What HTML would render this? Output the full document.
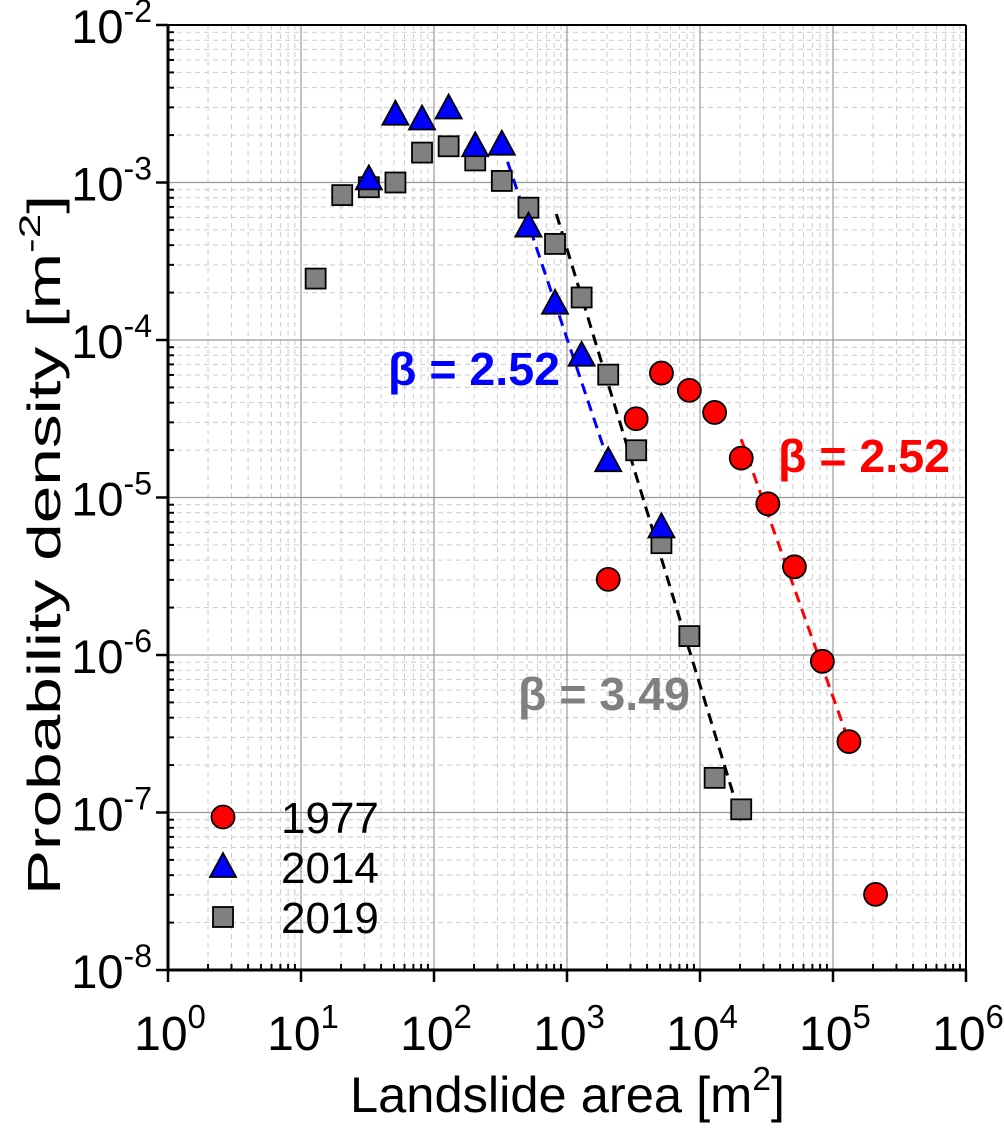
<!DOCTYPE html>
<html><head><meta charset="utf-8"><style>
body{margin:0;background:#fff;}
svg text{font-family:"Liberation Sans",Arial,sans-serif;}
</style></head><body>
<svg id="chart" width="1004" height="1132" xmlns="http://www.w3.org/2000/svg"></svg>
<script>
// data (log10 x, log10 y)
const xTickExps=[0,1,2,3,4,5,6];
const yTickExps=[-8,-7,-6,-5,-4,-3,-2];
const s1977X=[3.31,3.52,3.71,3.92,4.11,4.31,4.51,4.71,4.92,5.12,5.32];
const s1977Y=[-5.52,-4.50,-4.21,-4.32,-4.46,-4.75,-5.04,-5.44,-6.04,-6.55,-7.52];
const s2014X=[1.51,1.71,1.91,2.11,2.31,2.51,2.71,2.91,3.11,3.31,3.71];
const s2014Y=[-2.98,-2.57,-2.60,-2.53,-2.77,-2.76,-3.28,-3.77,-4.10,-4.77,-5.19];
const s2019X=[1.11,1.31,1.51,1.71,1.91,2.11,2.31,2.51,2.71,2.91,3.11,3.31,3.52,3.71,3.92,4.11,4.31];
const s2019Y=[-3.61,-3.08,-3.03,-3.00,-2.81,-2.77,-2.86,-2.99,-3.16,-3.39,-3.73,-4.22,-4.70,-5.29,-5.88,-6.78,-6.98];
const fitBlueX=[2.51,3.31], fitBlueY=[-2.76,-4.77];
const fitBlackX=[2.92,4.31], fitBlackY=[-3.20,-7.05];
const fitRedX=[4.31,5.12], fitRedY=[-4.63,-6.55];

const L=168,R=966,T=25,B=970;
const X=v=>L+(v-0)/6*(R-L);
const Y=v=>T+(-2-v)/6*(B-T);
const svg=document.getElementById('chart');
const NS='http://www.w3.org/2000/svg';
function mk(tag,attrs,parent){const e=document.createElementNS(NS,tag);for(const k in attrs)e.setAttribute(k,attrs[k]);(parent||svg).appendChild(e);return e;}

// grid
const grid=mk('g',{});


for(let d=0;d<6;d++)for(let m=2;m<=9;m++){const x=X(d+Math.log10(m));mk('line',{x1:x,x2:x,y1:T,y2:B,stroke:'#ccc','stroke-dasharray':'5,4','stroke-width':1},grid);}
for(let d=-8;d<-2;d++)for(let m=2;m<=9;m++){const y=Y(d+Math.log10(m));mk('line',{x1:L,x2:R,y1:y,y2:y,stroke:'#ccc','stroke-dasharray':'5,4','stroke-width':1},grid);}
xTickExps.forEach(e=>{mk('line',{x1:X(e),x2:X(e),y1:T,y2:B,stroke:'#999','stroke-width':1.2},grid);});
yTickExps.forEach(e=>{mk('line',{x1:L,x2:R,y1:Y(e),y2:Y(e),stroke:'#999','stroke-width':1.2},grid);});

// axes frame
const ax=mk('g',{});


mk('line',{x1:L,x2:L,y1:T,y2:B+1,stroke:'#000','stroke-width':3},ax);
mk('line',{x1:L-1,x2:R,y1:B,y2:B,stroke:'#000','stroke-width':3},ax);
mk('line',{x1:L,x2:R,y1:T,y2:T,stroke:'#000','stroke-width':2},ax);
mk('line',{x1:R,x2:R,y1:T,y2:B,stroke:'#000','stroke-width':2},ax);
xTickExps.forEach(e=>{mk('line',{x1:X(e),x2:X(e),y1:B,y2:B+12,stroke:'#000','stroke-width':2.5},ax);});
for(let d=0;d<6;d++)for(let m=2;m<=9;m++){const x=X(d+Math.log10(m));mk('line',{x1:x,x2:x,y1:B,y2:B-6,stroke:'#000','stroke-width':2},ax);}
yTickExps.forEach(e=>{mk('line',{x1:L-12,x2:L,y1:Y(e),y2:Y(e),stroke:'#000','stroke-width':2.5},ax);});
for(let d=-8;d<-2;d++)for(let m=2;m<=9;m++){const y=Y(d+Math.log10(m));mk('line',{x1:L,x2:L+6,y1:y,y2:y,stroke:'#000','stroke-width':2},ax);}

// tick labels
xTickExps.forEach(e=>{
  const t=mk('text',{x:X(e)+2,y:B+80,'text-anchor':'middle','font-size':48});
  
  
  t.innerHTML='10<tspan dy="-22" font-size="33">'+e+'</tspan>';
});
yTickExps.forEach(e=>{
  const t=mk('text',{x:152,y:Y(e)+18,'text-anchor':'end','font-size':47});
  
  
  t.innerHTML='10<tspan dy="-21" font-size="32">'+e+'</tspan>';
});

// axis titles
const xt=mk('text',{x:350,y:1112,'font-size':50,textLength:435,lengthAdjust:'spacingAndGlyphs'});


xt.innerHTML='Landslide area [m<tspan dy="-22" font-size="33">2</tspan><tspan dy="22">]</tspan>';
const yt=mk('text',{x:0,y:0,'font-size':46,transform:'translate(60,895) rotate(-90)',textLength:700,lengthAdjust:'spacingAndGlyphs'});


yt.innerHTML='Probability density [m<tspan dy="-20" font-size="30">-2</tspan><tspan dy="20">]</tspan>';

// fit lines
function fit(xs,ys,col,name){const l=mk('line',{x1:X(xs[0]),y1:Y(ys[0]),x2:X(xs[1]),y2:Y(ys[1]),stroke:col,'stroke-width':3,'stroke-dasharray':'11,7'});

}
fit(fitBlueX,fitBlueY,'#0000ff','fit-line-2014');
fit(fitBlackX,fitBlackY,'#000','fit-line-2019');
fit(fitRedX,fitRedY,'#ff0000','fit-line-1977');

// markers
function circ(cx,cy,g){return mk('circle',{cx:cx,cy:cy,r:11.5,fill:'#ff0000',stroke:'#000','stroke-width':1.8},g);}
function tri(cx,cy,g){return mk('polygon',{points:`${cx},${cy-14} ${cx+13},${cy+10} ${cx-13},${cy+10}`,fill:'#0000ff',stroke:'#000','stroke-width':1.8},g);}
function sq(cx,cy,g){return mk('rect',{x:cx-10,y:cy-10,width:20,height:20,fill:'#808080',stroke:'#000','stroke-width':1.8},g);}
const g19=mk('g',{});


s2019X.forEach((x,i)=>{const e=sq(X(x),Y(s2019Y[i]),g19);

});
const g14=mk('g',{});


s2014X.forEach((x,i)=>{const e=tri(X(x),Y(s2014Y[i]),g14);

});
const g77=mk('g',{});


s1977X.forEach((x,i)=>{const e=circ(X(x),Y(s1977Y[i]),g77);

});

// annotations
function ann(x,y,txt,col,name){const t=mk('text',{x:x,y:y,'font-size':46,'font-weight':'bold',fill:col,textLength:172,lengthAdjust:'spacingAndGlyphs'});t.textContent=txt;

}
ann(388,385,'β = 2.52','#0000ff','beta-label-2014');
ann(778,472,'β = 2.52','#ff0000','beta-label-1977');
ann(518,710,'β = 3.49','#808080','beta-label-2019');

// legend
const lg=mk('g',{});


circ(223,817,lg);tri(223,867,lg);sq(223,917,lg);
[['1977',817],['2014',867],['2019',917]].forEach(a=>{const t=mk('text',{x:281,y:a[1]+16,'font-size':44},lg);t.textContent=a[0];

});
</script>
</body></html>
